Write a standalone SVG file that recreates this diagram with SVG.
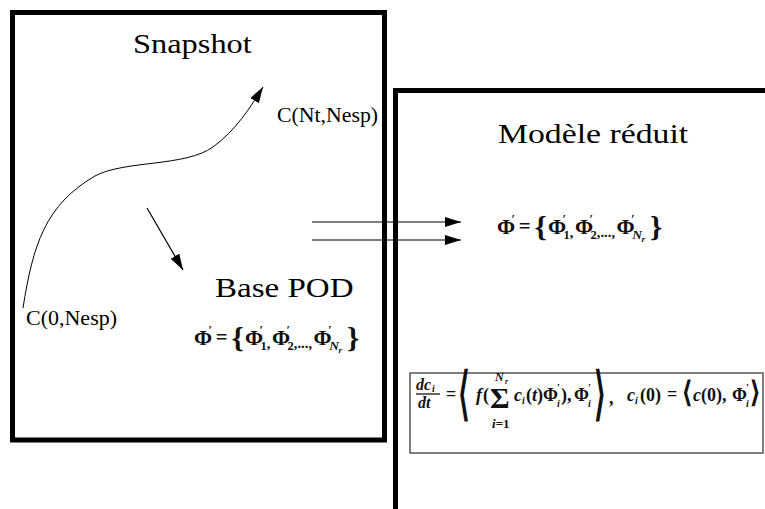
<svg xmlns="http://www.w3.org/2000/svg" width="765" height="509" viewBox="0 0 765 509">
<defs>
<marker id="ah" viewBox="0 0 16 10" refX="16" refY="5" markerWidth="16" markerHeight="10" markerUnits="userSpaceOnUse" orient="auto">
<path d="M0,0 L16,5 L0,10 z" fill="#000"/>
</marker>
<g id="phiset" fill="#111" font-weight="bold">
<text font-family="Liberation Serif" font-size="21" x="0" y="0">Φ</text>
<text font-family="Liberation Serif" font-size="12" x="14" y="-11">′</text>
<text font-family="Liberation Serif" font-size="20" x="21" y="-1">=</text>
<text font-family="Liberation Serif" font-size="30" x="36" y="3">{</text>
<text font-family="Liberation Serif" font-size="21" x="49" y="0">Φ</text>
<text font-family="Liberation Serif" font-size="12" x="63" y="-11">′</text>
<text font-family="Liberation Serif" font-size="12" x="64" y="5">1</text>
<text font-family="Liberation Serif" font-size="14" x="70" y="3">,</text>
<text font-family="Liberation Serif" font-size="21" x="75" y="0">Φ</text>
<text font-family="Liberation Serif" font-size="12" x="89" y="-11">′</text>
<text font-family="Liberation Serif" font-size="12" x="90" y="5">2</text>
<text font-family="Liberation Serif" font-size="14" x="96" y="3">,...,</text>
<text font-family="Liberation Serif" font-size="21" x="115" y="0">Φ</text>
<text font-family="Liberation Serif" font-size="12" x="129" y="-11">′</text>
<text font-family="Liberation Serif" font-style="italic" font-size="13" x="130" y="5">N</text>
<text font-family="Liberation Serif" font-style="italic" font-size="9" x="139" y="8">r</text>
<text font-family="Liberation Serif" font-size="30" x="147" y="3">}</text>
</g>
</defs>

<g id="snapshot">
<rect x="12.5" y="12.5" width="372" height="427.5" fill="#fff" stroke="#000" stroke-width="5"/>
<text font-family="Liberation Serif" font-size="27" transform="translate(133,53) scale(1.2,1)">Snapshot</text>
<text font-family="Liberation Serif" font-size="20" transform="translate(277,122) scale(1.09,1)">C(Nt,Nesp)</text>
<text font-family="Liberation Serif" font-size="20" transform="translate(26,325) scale(1.1,1)">C(0,Nesp)</text>
</g>

<g id="base-pod">
<text font-family="Liberation Serif" font-size="28" transform="translate(215,297) scale(1.18,1)">Base POD</text>
<use href="#phiset" transform="translate(194,345) scale(1.04,1)"/>
</g>

<g id="modele-reduit">
<rect x="395.5" y="90.5" width="420" height="460" fill="#fff" stroke="#000" stroke-width="5"/>
<text font-family="Liberation Serif" font-size="27" transform="translate(498,143) scale(1.25,1)">Modèle réduit</text>
<use href="#phiset" transform="translate(497,234) scale(1.04,1)"/>
</g>

<g id="equation" fill="#111" font-weight="bold">
<rect x="410" y="373" width="353" height="80" fill="#fff" stroke="#555" stroke-width="1.5"/>
<text font-family="Liberation Serif" font-style="italic" font-size="16" x="416" y="390">dc</text>
<text font-family="Liberation Serif" font-style="italic" font-size="10" x="432" y="392">i</text>
<line x1="416" y1="394" x2="440" y2="394" stroke="#111" stroke-width="1.3"/>
<text font-family="Liberation Serif" font-style="italic" font-size="16" x="418" y="408">dt</text>
<text font-family="Liberation Serif" font-size="18" x="446" y="400">=</text>
<text font-family="Liberation Serif" font-size="30" transform="translate(458,413) scale(1,1.9)">⟨</text>
<text font-family="Liberation Serif" font-style="italic" font-size="18" x="476" y="401">f</text>
<text font-family="Liberation Serif" font-size="18" x="483" y="401">(</text>
<text font-family="Liberation Serif" font-size="30" x="490" y="408">Σ</text>
<text font-family="Liberation Serif" font-style="italic" font-size="12" x="495" y="381">N</text>
<text font-family="Liberation Serif" font-style="italic" font-size="8" x="505" y="384">r</text>
<text font-family="Liberation Serif" font-size="13" x="492" y="428"><tspan font-style="italic">i</tspan>=1</text>
<text font-family="Liberation Serif" font-style="italic" font-size="18" x="514" y="401">c</text>
<text font-family="Liberation Serif" font-style="italic" font-size="10" x="522" y="404">i</text>
<text font-family="Liberation Serif" font-size="18" x="526" y="401">(<tspan font-style="italic">t</tspan>)</text>
<text font-family="Liberation Serif" font-size="18" x="543" y="401">Φ</text>
<text font-family="Liberation Serif" font-size="11" x="557" y="391">′</text>
<text font-family="Liberation Serif" font-style="italic" font-size="10" x="557" y="407">i</text>
<text font-family="Liberation Serif" font-size="18" x="561" y="401">),</text>
<text font-family="Liberation Serif" font-size="18" x="574" y="401">Φ</text>
<text font-family="Liberation Serif" font-size="11" x="588" y="391">′</text>
<text font-family="Liberation Serif" font-style="italic" font-size="10" x="588" y="407">i</text>
<text font-family="Liberation Serif" font-size="30" transform="translate(594,413) scale(1,1.9)">⟩</text>
<text font-family="Liberation Serif" font-size="18" x="609" y="404">,</text>
<text font-family="Liberation Serif" font-style="italic" font-size="18" x="627" y="401">c</text>
<text font-family="Liberation Serif" font-style="italic" font-size="10" x="635" y="404">i</text>
<text font-family="Liberation Serif" font-size="18" x="640" y="401">(0)</text>
<text font-family="Liberation Serif" font-size="18" x="667" y="400">=</text>
<text font-family="Liberation Serif" font-size="26" transform="translate(682,402) scale(1,1.1)">⟨</text>
<text font-family="Liberation Serif" font-style="italic" font-size="18" x="693" y="401">c</text>
<text font-family="Liberation Serif" font-size="18" x="701" y="401">(0),</text>
<text font-family="Liberation Serif" font-size="18" x="732" y="401">Φ</text>
<text font-family="Liberation Serif" font-size="11" x="746" y="391">′</text>
<text font-family="Liberation Serif" font-style="italic" font-size="10" x="746" y="407">i</text>
<text font-family="Liberation Serif" font-size="26" transform="translate(750,402) scale(1,1.1)">⟩</text>
</g>

<g id="connectors" fill="none" stroke="#000" stroke-width="1.2">
<path stroke-width="1" d="M23,308 C33,245 45,205 95,176 C125,160 185,167 213,147 C236,130 250,108 263,87" marker-end="url(#ah)"/>
<line x1="147" y1="208" x2="183" y2="270" marker-end="url(#ah)"/>
<line x1="312" y1="222" x2="461" y2="222" marker-end="url(#ah)"/>
<line x1="312" y1="240" x2="461" y2="240" marker-end="url(#ah)"/>
</g>
</svg>
